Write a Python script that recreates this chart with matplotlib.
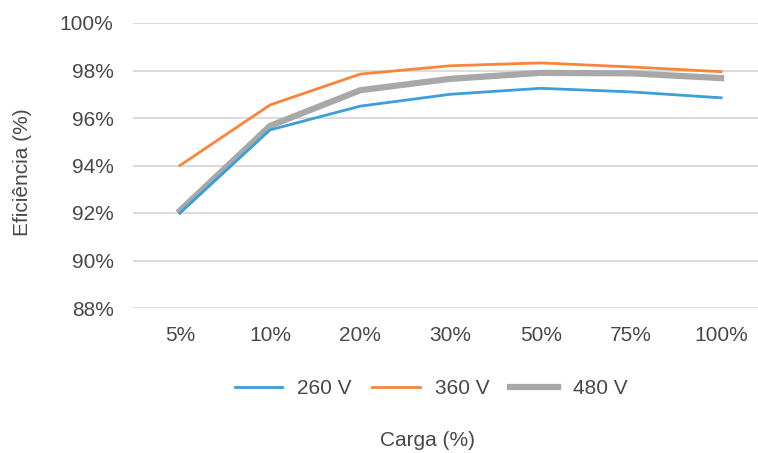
import matplotlib.pyplot as plt

# data
cargas = ['5%', '10%', '20%', '30%', '50%', '75%', '100%']
v260 = [92.0, 95.5, 96.5, 97.0, 97.25, 97.1, 96.85]
v360 = [94.0, 96.55, 97.85, 98.2, 98.32, 98.15, 97.95]
v480 = [92.1, 95.67, 97.17, 97.65, 97.9, 97.88, 97.68]
yticks = [88, 90, 92, 94, 96, 98, 100]

plt.rcParams['font.family'] = ['Liberation Sans', 'DejaVu Sans']
txt = '#484848'

fig = plt.figure(figsize=(7.58, 4.53), dpi=100)
ax = fig.add_axes([133/758, 1-308/453, (768-133)/758, (308-23)/453])

x = range(len(cargas))
ax.plot(x, v260, color='#3A9FDB', lw=2, label='260 V', zorder=3)
ax.plot(x, v360, color='#F8853A', lw=2, label='360 V', zorder=2)
ax.plot(x, v480, color='#A8A8A8', lw=4.5, label='480 V', zorder=2.5)

ax.set_xlim(-0.52, 6.52)
ax.set_ylim(88, 100)
ax.set_yticks(yticks)
ax.set_yticklabels([f'{v}%' for v in yticks])
ax.set_xticks(list(x))
ax.set_xticklabels(cargas)
ax.tick_params(axis='both', length=0, labelsize=15, labelcolor=txt)
ax.tick_params(axis='y', pad=14)
ax.tick_params(axis='x', pad=13)
ax.grid(axis='y', color='#D9D9D9', lw=1.3)
ax.set_axisbelow(True)
for s in ax.spines.values():
    s.set_visible(False)

fig.text(23/758, 1-172/453, 'Eficiência (%)', rotation=90, ha='center',
         va='center', fontsize=15, color=txt)
fig.text(428/758, 1-441/453, 'Carga (%)', ha='center', va='center',
         fontsize=15, color=txt)

leg = fig.legend(loc='center', bbox_to_anchor=(431/758, 1-389/453), ncol=3,
                 frameon=False, fontsize=15, handlelength=2.3,
                 handletextpad=0.7, columnspacing=1.0)
for t in leg.get_texts():
    t.set_color(txt)

fig.savefig('out.png', dpi=100)
